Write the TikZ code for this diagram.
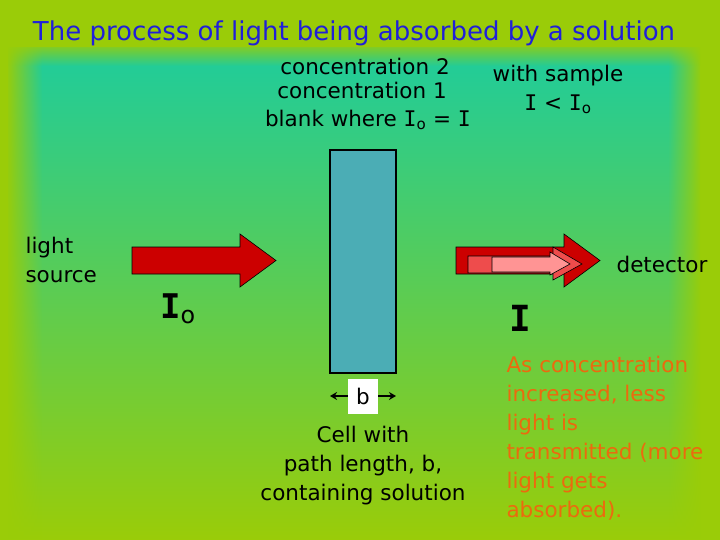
\documentclass[tikz,border=0pt]{standalone}
\usepackage{fontspec}
\setmainfont{DejaVu Sans}
\newfontfamily\barfont{DejaVu Sans Mono}
\usetikzlibrary{fadings,arrows.meta}

\definecolor{frame}{HTML}{9ACC08}
\definecolor{seatop}{HTML}{1ECC9C}
\definecolor{seamid}{HTML}{6ACC70}
\definecolor{titleblue}{HTML}{2020D8}
\definecolor{cellblue}{HTML}{4BADB5}
\definecolor{beamred}{HTML}{CC0000}
\definecolor{beampink}{HTML}{EE4C4C}
\definecolor{beamlight}{HTML}{FF9494}
\definecolor{noteorange}{HTML}{EC6A0E}

\tikzfading[name=fade right, left color=transparent!0, right color=transparent!100]
\tikzfading[name=fade left, left color=transparent!100, right color=transparent!0]
\tikzfading[name=fade down, top color=transparent!0, bottom color=transparent!100]

% the letter I with bars, as in the slide
\newcommand{\Ibar}{{\barfont I}}

\begin{document}
\begin{tikzpicture}[x=1pt,y=-1pt,
  label/.style={font=\fontsize{21.5}{29}\selectfont},
  beam/.style={draw=black, line width=0.6pt}]

\useasboundingbox (0,0) rectangle (720,540);

% background
\fill[frame] (0,0) rectangle (720,540);
\shade[top color=seatop, middle color=seamid, bottom color=frame] (8,48) rectangle (700,540);
\fill[frame, path fading=fade right] (6,44) rectangle (42,540);
\fill[frame, path fading=fade left] (668,44) rectangle (702,540);
\fill[frame, path fading=fade down] (6,42) rectangle (702,66);

\node[text=titleblue, font=\fontsize{26}{30}\selectfont] (title) at (354,33) {The process of light being absorbed by a solution};

\node[label] (conc2) at (365,66) {concentration 2};
\node[label] (conc1) at (362,90) {concentration 1};
\node[label] (blank) at (368,120) {blank where \Ibar\textsubscript{o} = \Ibar};
\node[label] (sample) at (558,76) {with sample};
\node[label] (ineq) at (558,104) {\Ibar{} < \Ibar\textsubscript{o}};

% cell
\node[draw=black, line width=2pt, fill=cellblue, minimum width=66, minimum height=223] (cell) at (363,261.5) {};
\node[fill=white, label, inner sep=0pt, minimum width=30, minimum height=35] (b) at (363,396) {b};
\coordinate (bl) at (330,396);
\coordinate (br) at (396,396);
\draw[-{Stealth[length=7pt,width=8pt]}, line width=1.3pt] (b) -- (bl);
\draw[-{Stealth[length=7pt,width=8pt]}, line width=1.3pt] (b) -- (br);
\node[label, align=center] (caption) at (363,466) {Cell with\\path length, b,\\containing solution};

% light in
\draw[beam, fill=beamred] (132,247) -- (240,247) -- (240,234) -- (276,260.5) -- (240,287) -- (240,274) -- (132,274) -- cycle;
\node[label, anchor=west, align=left] (source) at (22,260) {light\\source};
\node[font=\fontsize{34}{40}\selectfont\bfseries] (Io) at (178,309) {\Ibar\textsubscript{\mdseries o}};

% light out
\draw[beam, fill=beamred] (456,247) -- (564,247) -- (564,234) -- (600,260.5) -- (564,287) -- (564,274) -- (456,274) -- cycle;
\draw[beam, fill=beampink] (468,256) -- (553,256) -- (553,247) -- (582,264) -- (553,280) -- (553,273) -- (468,273) -- cycle;
\draw[beam, fill=beamlight] (492,257) -- (550,257) -- (550,252) -- (570,264) -- (550,275) -- (550,272) -- (492,272) -- cycle;
\node[label] (detector) at (662,264) {detector};
\node[font=\fontsize{36}{40}\selectfont\bfseries] (I) at (520,318) {\Ibar};

\node[label, text=noteorange, anchor=west, align=left] (note) at (503,438.5) {As concentration\\increased, less\\light is\\transmitted (more\\light gets\\absorbed).};

\end{tikzpicture}
\end{document}
